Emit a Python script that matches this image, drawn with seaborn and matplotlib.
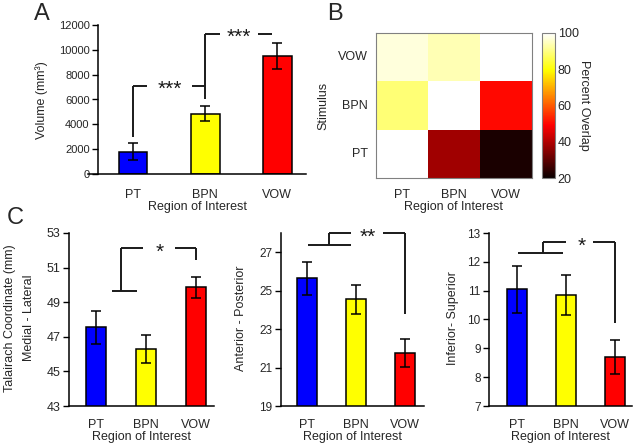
import numpy as np
import pandas as pd
import seaborn as sns
import matplotlib
matplotlib.use('Agg')
import matplotlib.pyplot as plt

sns.set_theme(style='white')
plt.rcParams['font.family'] = ['Liberation Sans', 'DejaVu Sans']

# data
regions = ['PT', 'BPN', 'VOW']
bar_colors = ['#0000ff', '#ffff00', '#ff0000']

volume = [1800, 4850, 9500]
volume_err = [680, 600, 1020]

stimuli = ['VOW', 'BPN', 'PT']   # rows top to bottom
overlap_vow = [97, 94, 100]
overlap_bpn = [89, 100, 50]
overlap_pt = [100, 38, 22]

ml = [47.55, 46.3, 49.85]
ml_err = [0.95, 0.8, 0.58]
ap = [25.65, 24.55, 21.75]
ap_err = [0.85, 0.75, 0.72]
inf_sup = [11.05, 10.85, 8.7]
inf_sup_err = [0.82, 0.7, 0.6]

W, H = 640, 444
fig = plt.figure(figsize=(W / 100, H / 100), dpi=100)


def box(l, t, r, b):
    return [l / W, 1 - b / H, (r - l) / W, (b - t) / H]


def bars(ax, vals, errs, tick_size):
    df = pd.DataFrame({'region': regions, 'value': vals})
    sns.barplot(data=df, x='region', y='value', hue='region', palette=bar_colors,
                saturation=1, legend=False, width=0.4, edgecolor='black', linewidth=1.1, ax=ax)
    ax.errorbar(range(len(vals)), vals, yerr=errs, fmt='none', ecolor='black',
                elinewidth=1.1, capsize=3.5, capthick=1.1)
    for s in ['top', 'right']:
        ax.spines[s].set_visible(False)
    for s in ['left', 'bottom']:
        ax.spines[s].set_color('black')
        ax.spines[s].set_linewidth(1.1)
    ax.tick_params(axis='y', left=True, direction='out', length=4, width=1,
                   color='black', labelsize=tick_size, pad=2)
    ax.tick_params(axis='x', bottom=False, labelsize=9, pad=3)
    ax.set_ylabel('')
    ax.set_xlabel('Region of Interest', fontsize=9, labelpad=0)


def bracket(ax, segs, stars, sx, sy):
    for xs, ys in segs:
        ax.plot(xs, ys, color='#1a1a1a', lw=1.4, solid_capstyle='butt', clip_on=False)
    ax.text(sx, sy, stars, ha='center', va='center', fontsize=15, color='#1a1a1a')


# Panel A
axA = fig.add_axes(box(88, 25, 306, 174))
bars(axA, volume, volume_err, 8)
axA.set_xlim(-0.625, 2.4)
axA.set_ylim(0, 12000)
axA.set_yticks(range(0, 12001, 2000))
axA.spines['left'].set_position(('outward', -7.2))
axA.tick_params(axis='x', pad=5)
axA.set_xlabel('Region of Interest', fontsize=9, labelpad=0)
bracket(axA, [([0, 0], [2980, 7080]), ([0, 0.2], [7080, 7080]), ([0.82, 1], [7080, 7080]),
              ([1, 1], [6040, 11270]), ([1, 1.21], [11270, 11270]), ([1.74, 1.93], [11270, 11270])],
        '***', 0.51, 6820)
axA.text(1.47, 11020, '***', ha='center', va='center', fontsize=15, color='#1a1a1a')
fig.text(42 / W, 1 - 100 / H, 'Volume (mm³)', rotation=90, ha='center', va='center', fontsize=9)

# Panel B
axB = fig.add_axes(box(376, 33, 532, 178))
cax = fig.add_axes(box(542, 33, 555, 178))
heat = pd.DataFrame([overlap_vow, overlap_bpn, overlap_pt], index=stimuli, columns=regions)
sns.heatmap(heat, cmap='hot', vmin=20, vmax=100, ax=axB, cbar_ax=cax,
            xticklabels=regions, yticklabels=stimuli)
for s in axB.spines.values():
    s.set_visible(True)
    s.set_color('#808080')
    s.set_linewidth(0.8)
axB.tick_params(direction='in', length=3, width=0.8, color='#606060',
                top=True, right=True, bottom=True, left=True, labelsize=9, pad=6)
axB.tick_params(axis='x', pad=8)
axB.set_yticklabels(stimuli, rotation=0)
axB.set_xlabel('Region of Interest', fontsize=9, labelpad=0)
axB.set_ylabel('Stimulus', fontsize=9, labelpad=6)
cax.tick_params(direction='in', length=2, width=0.6, color='#606060', right=True, labelsize=9, pad=2)
cax.set_yticks([20, 40, 60, 80, 100])
cax.set_ylabel('Percent Overlap', rotation=270, fontsize=9, labelpad=8)
cbar = axB.collections[0].colorbar
cbar.outline.set_visible(True)
cbar.outline.set_edgecolor('#808080')
cbar.outline.set_linewidth(0.8)

# Panel C1
ax1 = fig.add_axes(box(69, 233, 214, 406))
bars(ax1, ml, ml_err, 9)
ax1.set_xlim(-0.54, 2.36)
ax1.set_ylim(43, 53)
ax1.set_yticks(range(43, 54, 2))
bracket(ax1, [([0.32, 0.82], [49.65, 49.65]), ([0.5, 0.5], [49.65, 52.13]), ([0.5, 0.94], [52.13, 52.13]),
              ([1.58, 2.0], [52.13, 52.13]), ([2.0, 2.0], [52.13, 51.44])], '*', 1.28, 51.9)
fig.text(10 / W, 1 - 318 / H, 'Talairach Coordinate (mm)', rotation=90, ha='center', va='center', fontsize=9)
fig.text(29 / W, 1 - 318 / H, 'Medial - Lateral', rotation=90, ha='center', va='center', fontsize=9)

# Panel C2
ax2 = fig.add_axes(box(281, 233, 424, 406))
bars(ax2, ap, ap_err, 8.5)
ax2.set_xlim(-0.53, 2.39)
ax2.set_ylim(19, 28)
ax2.set_yticks(range(19, 28, 2))
bracket(ax2, [([0.02, 0.9], [27.4, 27.4]), ([0.45, 0.45], [27.4, 28.0]), ([0.45, 0.9], [28.0, 28.0]),
              ([1.55, 2.0], [28.0, 28.0]), ([2.0, 2.0], [28.0, 23.8])], '**', 1.25, 27.8)
fig.text(241 / W, 1 - 318 / H, 'Anterior - Posterior', rotation=90, ha='center', va='center', fontsize=9)

# Panel C3
ax3 = fig.add_axes(box(489, 233, 632, 406))
bars(ax3, inf_sup, inf_sup_err, 8.5)
ax3.set_xlim(-0.57, 2.35)
ax3.set_ylim(7, 13)
ax3.set_yticks(range(7, 14))
bracket(ax3, [([0.03, 0.94], [12.3, 12.3]), ([0.53, 0.53], [12.3, 12.68]), ([0.53, 1.0], [12.68, 12.68]),
              ([1.55, 2.0], [12.68, 12.68]), ([2.0, 2.0], [12.68, 9.88])], '*', 1.33, 12.55)
fig.text(453 / W, 1 - 318 / H, 'Inferior- Superior', rotation=90, ha='center', va='center', fontsize=9)

# panel letters
for x, y, letter in [(42, 14, 'A'), (335, 14, 'B'), (15, 218, 'C')]:
    fig.text(x / W, 1 - y / H, letter, ha='center', va='center', fontsize=17)

fig.savefig('out.png', dpi=100)
